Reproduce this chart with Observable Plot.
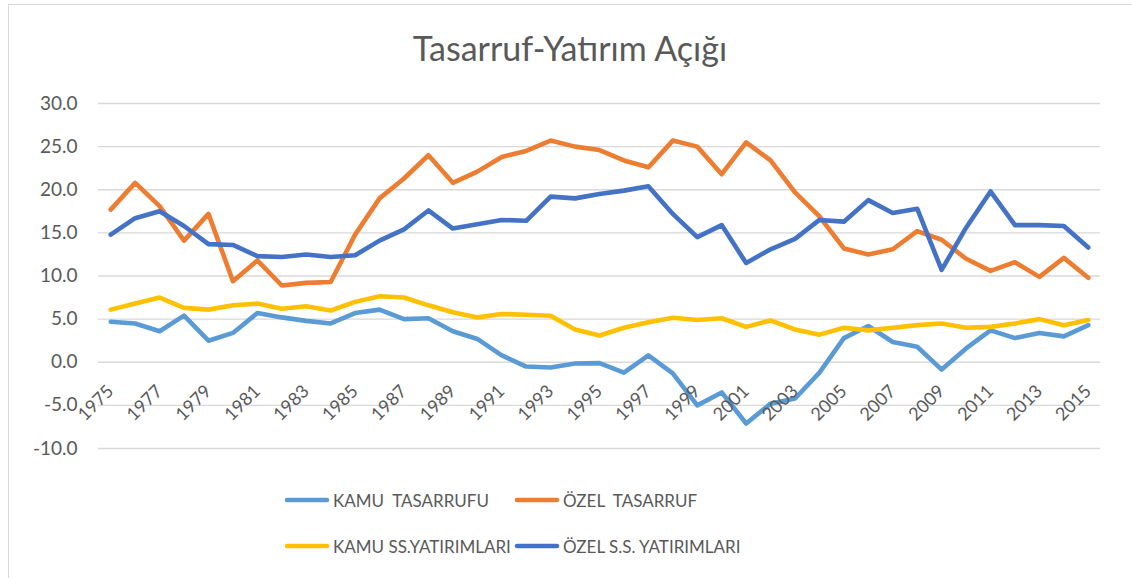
<!DOCTYPE html>
<html>
<head>
<meta charset="utf-8">
<script src="https://cdn.jsdelivr.net/npm/d3@7"></script>
<script src="https://cdn.jsdelivr.net/npm/@observablehq/plot@0.6"></script>
<style>
  html, body { margin: 0; padding: 0; background: #fff; }
  #wrap { position: relative; width: 1132px; height: 578px; overflow: hidden; font-family: Lato, "Open Sans", sans-serif; color: #595959; }
  #frame { position: absolute; left: 8px; top: 4px; width: 1200px; height: 700px; border: 1px solid #d9d9d9; box-sizing: border-box; }
  #title { position: absolute; left: 4px; width: 1132px; top: 27px; text-align: center; font-size: 34px; font-weight: 400; color: #595959; }
  #chart { position: absolute; left: 0; top: 0; }
  .leg { position: absolute; display: flex; align-items: center; font-size: 17px; color: #595959; white-space: pre; }
  .leg svg { margin-right: 3px; }
</style>
</head>
<body>
<div id="wrap">
  <div id="frame"></div>
  <div id="chart"></div>
  <div id="title">Tasarruf-Yatırım Açığı</div>
  <div id="legend"></div>
</div>
<script>
const years = d3.range(1975, 2016);
const kamuTasarrufu = [4.7,4.5,3.6,5.4,2.5,3.4,5.7,5.2,4.8,4.5,5.7,6.1,5.0,5.1,3.6,2.7,0.8,-0.5,-0.6,-0.15,-0.1,-1.2,0.8,-1.3,-5.0,-3.5,-7.1,-4.8,-4.2,-1.2,2.8,4.2,2.35,1.8,-0.85,1.6,3.7,2.8,3.4,3.0,4.3];
const ozelTasarruf = [17.7,20.8,18.1,14.1,17.2,9.4,11.8,8.9,9.2,9.3,14.8,19.0,21.3,24.0,20.8,22.1,23.8,24.5,25.7,25.0,24.6,23.4,22.6,25.7,25.0,21.8,25.5,23.4,19.7,16.9,13.2,12.5,13.1,15.2,14.2,12.0,10.6,11.6,9.9,12.1,9.8];
const kamuYatirim = [6.1,6.8,7.5,6.3,6.1,6.6,6.8,6.2,6.5,6.0,7.0,7.65,7.5,6.6,5.8,5.2,5.6,5.5,5.4,3.8,3.1,4.0,4.65,5.15,4.9,5.1,4.1,4.85,3.8,3.2,4.0,3.7,4.0,4.3,4.5,4.0,4.1,4.5,5.0,4.3,4.9];
const ozelYatirim = [14.8,16.7,17.5,15.8,13.7,13.6,12.3,12.2,12.5,12.2,12.4,14.1,15.4,17.6,15.5,16.0,16.5,16.4,19.2,19.0,19.5,19.9,20.4,17.2,14.5,15.9,11.5,13.1,14.3,16.5,16.3,18.8,17.3,17.8,10.7,15.6,19.8,15.9,15.9,15.8,13.3];
const seriesNames = ["KAMU  TASARRUFU", "ÖZEL  TASARRUF", "KAMU SS.YATIRIMLARI", "ÖZEL S.S. YATIRIMLARI"];
const seriesColors = ["#5B9BD5", "#ED7D31", "#FFC000", "#4472C4"];
const yTicks = [-10, -5, 0, 5, 10, 15, 20, 25, 30];
const xTickYears = d3.range(1975, 2016, 2);

const allSeries = [kamuTasarrufu, ozelTasarruf, kamuYatirim, ozelYatirim];
const rows = [];
allSeries.forEach((vals, i) => vals.forEach((v, j) => rows.push({year: years[j], value: v, series: seriesNames[i]})));

const chart = Plot.plot({
  width: 1132,
  height: 470,
  marginTop: 103,
  marginBottom: 22,
  marginLeft: 98,
  marginRight: 32,
  style: {fontFamily: "Lato, 'Open Sans', sans-serif", color: "#595959", background: "transparent"},
  x: {domain: [1974.5, 2015.5], axis: null},
  y: {domain: [-10, 30], axis: null},
  color: {domain: seriesNames, range: seriesColors},
  marks: [
    Plot.ruleY(yTicks, {stroke: "#d9d9d9", strokeWidth: 1.3}),
    Plot.axisY({ticks: yTicks, label: null, tickSize: 0, tickPadding: 21, tickFormat: d => d.toFixed(1), fontSize: 19, fill: "#595959"}),
    Plot.line(rows, {x: "year", y: "value", z: "series", stroke: "series", strokeWidth: 4.6, strokeLinejoin: "round", strokeLinecap: "round"}),
    Plot.text(xTickYears, {x: d => d, y: () => 0, text: d => String(d), rotate: -45, textAnchor: "end", lineAnchor: "bottom", dx: 4, dy: 30, fontSize: 18, fill: "#595959"})
  ]
});
document.getElementById("chart").appendChild(chart);

const legendPos = [[284, 500], [514, 500], [284, 546], [514, 546]];
const legend = document.getElementById("legend");
seriesNames.forEach((name, i) => {
  const d = document.createElement("div");
  d.className = "leg";
  d.style.left = legendPos[i][0] + "px";
  d.style.top = (legendPos[i][1] - 12) + "px";
  d.style.height = "24px";
  d.innerHTML = `<svg width="46" height="10"><line x1="3" y1="5" x2="43" y2="5" stroke="${seriesColors[i]}" stroke-width="4.5" stroke-linecap="round"/></svg>`;
  const s = document.createElement("span");
  s.textContent = name;
  d.appendChild(s);
  legend.appendChild(d);
});
</script>
</body>
</html>
